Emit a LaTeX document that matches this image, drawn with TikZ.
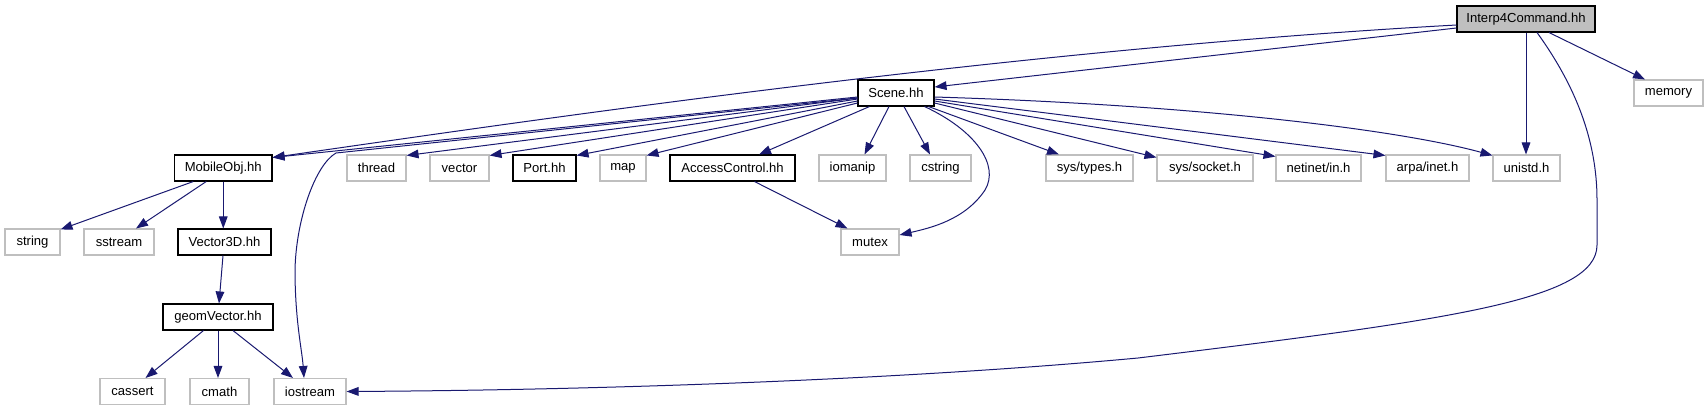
\documentclass[tikz,border=0pt]{standalone}
\usepackage{fontspec}
\setmainfont{Liberation Sans}
\usetikzlibrary{arrows.meta,calc}
\definecolor{edgeblue}{HTML}{191970}
\definecolor{lgray}{HTML}{BFBFBF}
\tikzset{
  hdr/.style={draw=black, line width=0.8pt, rectangle, minimum height=19.5pt, inner sep=0pt, fill=white, font=\fontsize{9.8}{11}\selectfont},
  sysh/.style={hdr, draw=lgray},
  cur/.style={hdr, fill=lgray},
  dep/.style={draw=edgeblue, line width=0.75pt, -{Triangle[length=9pt,width=6.5pt]}}
}
\begin{document}
\begin{tikzpicture}[x=0.75pt,y=-0.75pt]
\useasboundingbox (0,0) rectangle (1708,411);
% nodes
\node[cur, minimum width=103.5pt] (I4C) at (1526,19) {Interp4Command.hh};
\node[hdr, minimum width=57pt] (Scene) at (896,93) {Scene.hh};
\node[sysh, minimum width=51.75pt] (memory) at (1668.5,93) {memory};
\node[hdr, minimum width=73.1pt] (MobileObj) at (223.25,168) {MobileObj.hh};
\node[sysh, minimum width=44.25pt] (thread) at (376.5,168) {thread};
\node[sysh, minimum width=44.25pt] (vector) at (459.5,168) {vector};
\node[hdr, minimum width=47.25pt] (Port) at (544.5,168) {Port.hh};
\node[sysh, minimum width=34.5pt] (map) at (623,168) {map};
\node[hdr, minimum width=93.75pt] (Access) at (732.5,168) {AccessControl.hh};
\node[sysh, minimum width=50.25pt] (iomanip) at (852.5,168) {iomanip};
\node[sysh, minimum width=45.75pt] (cstring) at (940.5,168) {cstring};
\node[sysh, minimum width=65.25pt] (systypes) at (1089.5,168) {sys/types.h};
\node[sysh, minimum width=72pt] (syssocket) at (1205,168) {sys/socket.h};
\node[sysh, minimum width=63.75pt] (netinet) at (1318.5,168) {netinet/in.h};
\node[sysh, minimum width=62.25pt] (arpa) at (1427.5,168) {arpa/inet.h};
\node[sysh, minimum width=50.25pt] (unistd) at (1526.5,168) {unistd.h};
\node[sysh, minimum width=41.25pt] (string) at (32.5,242) {string};
\node[sysh, minimum width=52.5pt] (sstream) at (119,242) {sstream};
\node[hdr, minimum width=69.75pt] (Vector3D) at (224.5,242) {Vector3D.hh};
\node[sysh, minimum width=43.5pt] (mutex) at (870,242) {mutex};
\node[hdr, minimum width=82.5pt] (geomVector) at (218,317) {geomVector.hh};
\node[sysh, minimum width=48.75pt] (cassert) at (132.5,391.5) {cassert};
\node[sysh, minimum width=44.25pt] (cmath) at (219.5,391.5) {cmath};
\node[sysh, minimum width=54pt] (iostream) at (310,391.5) {iostream};
% edges from Interp4Command
\draw[dep] ($(I4C.west)+(0,9)$) -- ($(Scene.east)+(0,-6)$);
\draw[dep] ($(I4C.west)+(0,6)$) .. controls (1000,50) and (500,125) .. ($(MobileObj.north east)+(0,3)$);
\draw[dep] (I4C.south) -- (I4C.south |- unistd.north);
\draw[dep] ($(I4C.south)+(23,0)$) -- ($(memory.north)+(-23.5,0)$);
\draw[dep] ($(I4C.south)+(11,0)$) .. controls (1575,85) and (1597,140) .. (1597,200) -- (1597,245)
   .. controls (1597,300) and (1450,320) .. (1138,358)
   .. controls (900,380) and (600,390) .. (iostream.east);
% edges from Scene
\draw[dep] ($(Scene.west)+(0,4)$) -- ($(MobileObj.north east)+(0,3)$);
\draw[dep] ($(Scene.west)+(0,5)$) -- (336,153) .. controls (315,165) and (296,220) .. (295,270)
   .. controls (295,320) and (302,350) .. ($(iostream.north)+(-6,0)$);
\draw[dep] ($(Scene.west)+(0,5)$) -- ($(thread.north east)+(0,1)$);
\draw[dep] ($(Scene.west)+(0,6)$) -- ($(vector.north east)+(0,1)$);
\draw[dep] ($(Scene.west)+(0,8)$) -- ($(Port.north east)+(0,1)$);
\draw[dep] ($(Scene.west)+(0,10)$) -- ($(map.north east)+(0,1)$);
\draw[dep] ($(Scene.south west)+(12,0)$) -- ($(Access.north)+(26.5,0)$);
\draw[dep] ($(Scene.south)+(-7,0)$) -- ($(iomanip.north)+(12,0)$);
\draw[dep] ($(Scene.south)+(8,0)$) -- ($(cstring.north)+(-10.5,0)$);
\draw[dep] ($(Scene.south east)+(-10,0)$) .. controls (975,130) and (1000,165) .. (985,190)
   .. controls (965,220) and (930,228) .. ($(mutex.east)+(0,-7)$);
\draw[dep] ($(Scene.south east)+(-6,0)$) -- ($(systypes.north)+(-30.5,0)$);
\draw[dep] ($(Scene.east)+(0,10)$) -- ($(syssocket.north west)+(0,3)$);
\draw[dep] ($(Scene.east)+(0,8)$) -- ($(netinet.north west)+(0,2)$);
\draw[dep] ($(Scene.east)+(0,6)$) -- ($(arpa.north west)+(0,1)$);
\draw[dep] ($(Scene.east)+(0,4)$) .. controls (1200,105) and (1400,130) .. ($(unistd.north west)+(0,1)$);
% AccessControl
\draw[dep] ($(Access.south)+(22,0)$) -- ($(mutex.north west)+(7,0)$);
% MobileObj
\draw[dep] ($(MobileObj.south)+(-30,0)$) -- ($(string.north east)+(0,1)$);
\draw[dep] ($(MobileObj.south)+(-17,0)$) -- ($(sstream.north)+(17,0)$);
\draw[dep] (MobileObj.south) -- (MobileObj.south |- Vector3D.north);
% Vector3D
\draw[dep] ($(Vector3D.south)+(-1.5,0)$) -- ($(geomVector.north)+(1,0)$);
% geomVector
\draw[dep] ($(geomVector.south)+(-14.5,0)$) -- ($(cassert.north)+(13,0)$);
\draw[dep] (geomVector.south) -- (geomVector.south |- cmath.north);
\draw[dep] ($(geomVector.south)+(15,0)$) -- ($(iostream.north)+(-17,0)$);
\end{tikzpicture}
\end{document}
